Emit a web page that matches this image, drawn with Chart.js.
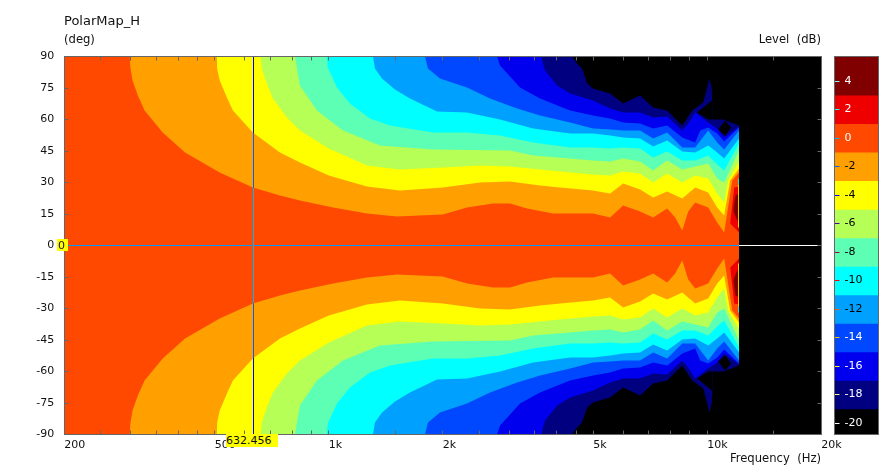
<!DOCTYPE html>
<html><head><meta charset="utf-8">
<style>
html,body{margin:0;padding:0;background:#fff;width:892px;height:469px;overflow:hidden}
canvas{position:absolute;display:block}
.t{position:absolute;font-family:"DejaVu Sans",sans-serif;font-size:11.6px;line-height:13px;color:#111;white-space:pre}
.cur{background:#ffff00;color:#111;font-size:11px}
</style>
<script src="https://cdn.jsdelivr.net/npm/chart.js@4/dist/chart.umd.min.js"></script>
</head><body>
<canvas id="map" width="892" height="469" style="left:0;top:0"></canvas>
<canvas id="bar" width="45" height="379" style="left:834px;top:56px"></canvas>
<div class="t" style="left:64px;top:14px;font-size:13px">PolarMap_H</div>
<div class="t" style="left:64px;top:33px">(deg)</div>
<div class="t" style="right:71px;top:33px">Level  (dB)</div>
<div class="t" style="right:71px;top:452px">Frequency  (Hz)</div>
<div class="t cur" style="left:57px;top:239px;width:11px;height:12px;padding-left:1px;box-sizing:border-box">0</div>
<div class="t cur" style="left:226px;top:434px;width:52px;height:13px;">632.456</div>
<script>
// contour boundary of each colour band, upper half: frequency (Hz) and angle (deg)
const f0  = [200,298,299,303,313,326,364,417,515,630,743,839,1026,1261,1514,2000,2318,2716,3012,3341,3913,4990,5535,5994,6645,7194,7834,8224,8585,8904,9290,10052,10620,11080,11640,12130];
const a0  = [90,90,84.8,78.6,71.4,64.3,53.8,44.3,34.8,27.6,23.8,21.4,18.1,15.2,13.8,14.8,18.1,20,20,17.6,15.2,15.2,13.3,19,16.2,13.3,17.6,13.3,7.1,16.2,20.5,18.1,11,6.2,31,34.8];
const f2  = [200,506,507,515,538,558,630,743,839,1000,1261,1542,2000,2509,3012,3615,4083,4990,5535,5994,6645,7194,7834,8585,9290,10052,10620,11080,11490,12130];
const a2  = [90,90,84.3,78.6,70.5,64.3,53.8,44.3,39.5,33.3,28.1,26.2,27.6,30,30.5,28.6,27.6,26.2,24.8,29.5,26.7,22.9,25.7,22.4,27.6,25.2,18.1,14.3,31,36.7];
const f4  = [200,661,665,686,712,775,839,1000,1261,1542,2000,2509,3012,3615,4083,4990,5535,5994,6645,7194,7834,8585,9290,10052,10620,11080,11355,12130];
const a4  = [90,90,84.3,77.1,70,61,54.8,46.2,38.1,36.2,37.1,38.1,37.6,36.2,35.2,33.8,33.3,35.2,34.3,30,34.3,30,33.3,31.9,24.8,20.5,31,40];
const f6  = [200,814,824,839,930,1090,1365,1885,3012,3465,4340,4990,5535,5994,6645,7194,7834,8585,9290,10052,10620,11080,12130];
const a6  = [90,90,84.3,76.2,64.3,54.8,47.6,45.7,45.2,42.9,41.4,40.5,40,41.4,40,35.7,40.5,36.2,37.6,39,31.9,30,45.2];
const f8  = [200,988,994,1051,1137,1285,1451,1885,2318,2834,3465,4340,4990,5535,5994,6645,7194,7834,8585,9290,10052,10620,11080,12130];
const a8  = [90,90,84.8,75.2,67.6,60.5,57.1,53.8,53.8,52.4,49,46.7,46.7,46.2,46.7,46.2,41.9,44.8,40.5,40.5,42.9,38.6,35.7,48.6];
const f10 = [200,1308,1324,1382,1495,1638,1931,2318,2834,3465,4340,4990,5535,5994,6645,7194,7834,8585,9290,10052,10620,11080,12130];
const a10 = [90,90,84.3,79.5,74.3,70,63.8,63.3,60,55.7,53.3,53.3,52.4,51.4,51,47.1,50,44.8,44.3,47.6,44.3,41.4,51];
const f12 = [200,1795,1828,1966,2318,2667,3143,3615,4340,4990,5535,5994,6645,7194,7834,8585,9290,10052,10620,11080,12130];
const a12 = [90,90,84.3,79.5,75.2,70,65.2,61.9,58.6,55.7,55.2,54.8,54.8,51,53.8,46.7,46.7,54.8,49,45.7,54.8];
const f14 = [200,2783,2834,3200,3615,4340,4990,5535,5994,6645,7194,7834,8585,9290,9579,10052,10620,11080,12130];
const a14 = [90,90,85.7,75.2,70,64.3,61.9,60.5,58.6,58.1,55.7,57.1,51.4,49,54.8,56.2,53.3,49.5,56.2];
const f16 = [200,3637,3727,4009,4340,4990,5535,5994,6645,7194,7834,8585,8904,9290,10052,10620,11080,12130];
const a16 = [90,90,83.3,76.2,72.4,69,65.2,63.3,63.3,61,61.4,54.8,58.1,63.3,58.6,55.7,51.4,56.7];
const f18 = [200,4392,4530,4669,4814,4990,5535,5994,6645,7194,7834,8585,9125,9757,9995,10120,10270,10300,10310,11016,12130];
const a18 = [90,90,86.7,84.3,77.1,74.8,72.4,67.6,71.4,65.7,64.3,57.1,64.3,68.1,75.2,79.5,75.2,69,60,60,57.1];
// closed islands: frequency, upper angle, lower angle
const foldF = [9400,10052,10300];   const foldU = [63.3,67.6,69];   const foldL = [63.3,60,60];
const holeF = [10686,11150,11560];  const holeU = [55.2,59.5,56.2]; const holeL = [55.2,52.4,56.2];
const red2F = [11490,11780,12130];  const red2U = [10.5,27.6,28.1]; const red2L = [10.5,8.6,6.2];
const red4F = [11710,11870,12130];  const red4U = [16.7,23.8,24.8]; const red4L = [16.7,13.8,10.5];
const edgeF = [12060,12130];        const edgeU = [29,29];          const edgeL = [8.6,8.6];
const edgeCF= [12060,12130];        const edgeCU= [31.9,31.9];      const edgeCL= [29,29];
// axes
const freqLabels = [200,500,1000,2000,5000,10000,20000];
const freqTicks  = [250,300,350,400,450,500,600,700,800,900,1000,1500,2000,2500,3000,3500,4000,4500,5000,6000,7000,8000,9000,10000,15000];
const angleTicks = [90,75,60,45,30,15,0,-15,-30,-45,-60,-75,-90];
const levels     = [4,2,0,-2,-4,-6,-8,-10,-12,-14,-16,-18,-20];
const levelColors= ['#800000','#ee0000','#ff4800','#ffa000','#ffff00','#b5ff57','#5dffb4','#00ffff','#00a0ff','#0048ff','#0000ee','#000080','#000000'];
const cursorFreq = 632.456, cursorAngle = 0;

const pts=(f,a,s)=>f.map((v,i)=>({x:v,y:s*a[i]}));
const ds=[];
function band(f,a,color){ for(const s of [1,-1]) ds.push({data:pts(f,a,s),backgroundColor:color,fill:'origin'}); }
function island(f,u,l,color){ for(const s of [1,-1]){ ds.push({data:pts(f,u,s),backgroundColor:color,fill:'+1'}); ds.push({data:pts(f,l,s),fill:false}); } }
const col=v=>levelColors[levels.indexOf(v)];
band([200,20000],[90,90],col(-20));
band(f18,a18,col(-18));
island(foldF,foldU,foldL,col(-20));
island(holeF,holeU,holeL,col(-20));
band(f16,a16,col(-16));
band(f14,a14,col(-14));
band(f12,a12,col(-12));
band(f10,a10,col(-10));
band(f8,a8,col(-8));
band(f6,a6,col(-6));
band(f4,a4,col(-4));
band(f2,a2,col(-2));
band(f0,a0,col(0));
island(red2F,red2U,red2L,col(2));
island(red4F,red4U,red4L,col(4));
island(edgeF,edgeU,edgeL,col(-4));
island(edgeCF,edgeCU,edgeCL,col(-10));
ds.push({data:[{x:200,y:cursorAngle},{x:20000,y:cursorAngle}],borderColor:'#fff',borderWidth:1,xor:true,fill:false});
ds.push({data:[{x:cursorFreq,y:-90},{x:cursorFreq,y:90}],borderColor:'#fff',borderWidth:1,xor:true,fill:false});
ds.forEach((d,i)=>{d.order=ds.length-i;d.showLine=true;d.pointRadius=0;d.pointHoverRadius=0;if(!d.xor)d.borderWidth=0;d.tension=0;});

const FONT={family:'"DejaVu Sans",sans-serif',size:11};
const frame={id:'frame',
  beforeDatasetDraw(c,a){ if(c.data.datasets[a.index].xor){c.ctx.save();c.ctx.globalCompositeOperation='difference';} },
  afterDatasetDraw(c,a){ if(c.data.datasets[a.index].xor){c.ctx.restore();} },
  afterDraw(c){
    const {ctx,chartArea:A,scales:{x,y}}=c;
    const l=Math.floor(A.left)+.5,r=Math.floor(A.right)+.5,t=Math.floor(A.top)+.5,b=Math.floor(A.bottom)+.5;
    ctx.save();ctx.strokeStyle='#666';ctx.lineWidth=1;ctx.beginPath();
    const L=4;
    for(const v of freqTicks){const p=Math.floor(x.getPixelForValue(v))+.5;ctx.moveTo(p,t);ctx.lineTo(p,t+L);ctx.moveTo(p,b);ctx.lineTo(p,b-L);}
    for(const v of angleTicks){const p=Math.floor(y.getPixelForValue(v))+.5;ctx.moveTo(l,p);ctx.lineTo(l+L,p);ctx.moveTo(r,p);ctx.lineTo(r-L,p);}
    ctx.stroke();
    ctx.strokeRect(l,t,r-l,b-t);
    ctx.restore();
  }};
new Chart(document.getElementById('map'),{type:'scatter',data:{datasets:ds},plugins:[frame],options:{
  responsive:false,animation:false,devicePixelRatio:1,
  layout:{padding:{left:0,top:56.5,right:70.75,bottom:0}},
  plugins:{legend:{display:false},tooltip:{enabled:false}},
  events:[],
  scales:{
    x:{type:'logarithmic',min:200,max:20000,grid:{display:false,drawTicks:false},border:{display:false},
       afterBuildTicks(s){s.ticks=freqLabels.map(v=>({value:v}));},
       afterFit(s){s.height=34.5;},
       ticks:{autoSkip:false,maxRotation:0,minRotation:0,align:'start',padding:4,color:'#111',font:FONT,
              callback:v=>v>=1000?(v/1000)+'k':String(v)}},
    y:{type:'linear',min:-90,max:90,grid:{display:false,drawTicks:false},border:{display:false},
       afterBuildTicks(s){s.ticks=angleTicks.map(v=>({value:v}));},
       afterFit(s){s.width=64.25;},
       ticks:{autoSkip:false,padding:10,color:'#111',font:FONT}}
  }}});

const barLight=[4,2,0,-14,-16,-18,-20];
const barDs=levels.map((v,i)=>({data:[[i===levels.length-1?-20.8:v-1,i===0?5.72:v+1]],backgroundColor:levelColors[i],borderWidth:0,grouped:false,barPercentage:1,categoryPercentage:1}));
const barFrame={id:'barFrame',afterDraw(c){
  const {ctx,chartArea:A,scales:{y}}=c;
  ctx.save();ctx.globalCompositeOperation='difference';ctx.strokeStyle='#fff';ctx.beginPath();
  for(const v of levels){const p=Math.floor(y.getPixelForValue(v))+.5;ctx.moveTo(A.left,p);ctx.lineTo(A.left+5,p);}
  ctx.stroke();ctx.restore();
  ctx.save();ctx.strokeStyle='#666';ctx.lineWidth=1;ctx.strokeRect(A.left,A.top,A.right-A.left,A.bottom-A.top);ctx.restore();
}};
new Chart(document.getElementById('bar'),{type:'bar',data:{labels:[''],datasets:barDs},plugins:[barFrame],options:{
  responsive:false,animation:false,devicePixelRatio:1,
  layout:{padding:{left:.5,top:.5,right:.5,bottom:.5}},
  plugins:{legend:{display:false},tooltip:{enabled:false}},events:[],
  scales:{
    x:{display:false,stacked:true},
    y:{min:-20.8,max:5.72,grid:{display:false,drawTicks:false},border:{display:false},
       afterBuildTicks(s){s.ticks=levels.map(v=>({value:v}));},
       afterFit(s){s.width=0;s.paddingTop=0;s.paddingBottom=0;},
       ticks:{mirror:true,z:1,padding:10,autoSkip:false,font:FONT,color:c=>barLight.includes(c.tick.value)?'#fff':'#000'}}
  }}});
</script>
</body></html>
